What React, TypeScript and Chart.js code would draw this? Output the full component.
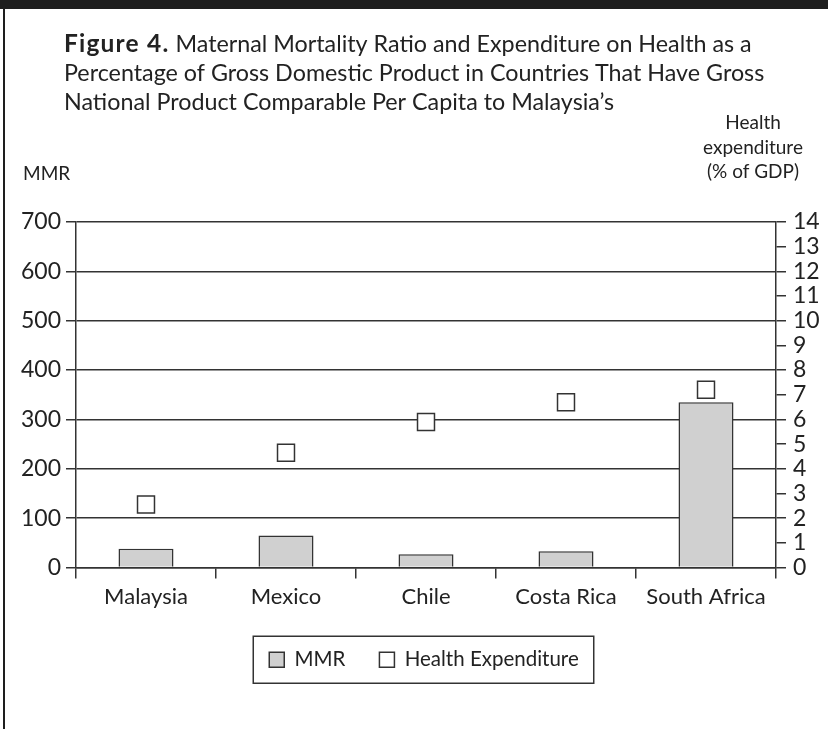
import React, { useEffect, useRef } from "react";
import { Chart, registerables } from "chart.js";

Chart.register(...registerables);

// ---- data ----
const categories = ["Malaysia", "Mexico", "Chile", "Costa Rica", "South Africa"];
const mmrValues = [38, 65, 27, 33, 335];
const healthExpenditureValues = [2.55, 4.65, 5.9, 6.7, 7.2];
const seriesLabels = ["MMR", "Health Expenditure"];
const mmrAxisRange = [0, 700, 100]; // min, max, step
const healthAxisRange = [0, 14, 1]; // min, max, step
const titleBold = "Figure 4.";
const titleLines = [
  " Maternal Mortality Ratio and Expenditure on Health as a",
  "Percentage of Gross Domestic Product in Countries That Have Gross",
  "National Product Comparable Per Capita to Malaysia’s",
];
const leftAxisTitle = ["MMR"];
const rightAxisTitle = ["Health", "expenditure", "(% of GDP)"];

// ---- styles ----
const FONT = "Lato, 'Noto Sans', sans-serif";
const INK = "#222222";
const LINE = "#333333";
const BAR_FILL = "#d0d0d0";

const decorPlugin = {
  id: "decor",
  beforeDraw(chart: any) {
    const ctx = chart.ctx as CanvasRenderingContext2D;
    ctx.save();
    ctx.fillStyle = "#ffffff";
    ctx.fillRect(0, 0, chart.width, chart.height);
    ctx.fillStyle = "#1e1e1e";
    ctx.fillRect(0, 0, chart.width, 9);
    ctx.fillRect(3, 9, 2, chart.height - 9);

    ctx.fillStyle = INK;
    ctx.textBaseline = "alphabetic";
    ctx.textAlign = "left";
    ctx.font = `bold 24.5px ${FONT}`;
    (ctx as any).letterSpacing = "1.2px";
    ctx.fillText(titleBold, 64, 52);
    const bw = ctx.measureText(titleBold).width;
    (ctx as any).letterSpacing = "0px";
    ctx.font = `23.3px ${FONT}`;
    ctx.fillText(titleLines[0], 64 + bw, 52);
    ctx.fillText(titleLines[1], 64, 81);
    ctx.fillText(titleLines[2], 64, 110);

    ctx.font = `19px ${FONT}`;
    leftAxisTitle.forEach((t, i) => ctx.fillText(t, 23, 180 + i * 24.5));
    ctx.textAlign = "center";
    rightAxisTitle.forEach((t, i) => ctx.fillText(t, 753, 129 + i * 24.5));
    ctx.restore();
  },
  afterDraw(chart: any) {
    const lg = chart.legend;
    if (!lg || !lg.legendHitBoxes || !lg.legendHitBoxes.length) return;
    const hb = lg.legendHitBoxes;
    let l = Infinity;
    let r = -Infinity;
    hb.forEach((h: any) => {
      l = Math.min(l, h.left);
      r = Math.max(r, h.left + h.width);
    });
    const cy = hb[0].top + hb[0].height / 2;
    const ctx = chart.ctx as CanvasRenderingContext2D;
    ctx.save();
    ctx.strokeStyle = LINE;
    ctx.lineWidth = 1.5;
    ctx.strokeRect(l - 16, cy - 23.5, r - l + 31, 47);
    ctx.restore();
  },
};

export default function App() {
  const ref = useRef<HTMLCanvasElement | null>(null);

  useEffect(() => {
    if (!ref.current) return;
    const chart = new Chart(ref.current, {
      type: "bar",
      data: {
        labels: categories,
        datasets: [
          {
            type: "bar",
            label: seriesLabels[0],
            data: mmrValues,
            yAxisID: "y",
            backgroundColor: BAR_FILL,
            borderColor: LINE,
            borderWidth: 1.5,
            barPercentage: 0.393,
            categoryPercentage: 1,
            order: 1,
          } as any,
          {
            type: "line",
            label: seriesLabels[1],
            data: healthExpenditureValues,
            yAxisID: "y1",
            showLine: false,
            backgroundColor: "#ffffff",
            borderColor: LINE,
            borderWidth: 1.5,
            pointStyle: "rect",
            pointRadius: 12,
            pointHoverRadius: 12,
            pointBackgroundColor: "#ffffff",
            pointBorderColor: LINE,
            pointBorderWidth: 1.5,
            order: 0,
          } as any,
        ],
      },
      options: {
        responsive: false,
        animation: false,
        devicePixelRatio: 1,
        layout: { padding: { top: 222, left: 20, right: 0, bottom: 49 } },
        plugins: {
          title: { display: false },
          tooltip: { enabled: false },
          legend: {
            display: true,
            position: "bottom",
            labels: {
              font: { family: FONT, size: 20.5 },
              color: INK,
              boxWidth: 15,
              boxHeight: 15,
              padding: 34,
              sort: (a: any, b: any) => a.datasetIndex - b.datasetIndex,
            },
          },
        },
        scales: {
          x: {
            grid: {
              display: true,
              offset: true,
              drawOnChartArea: false,
              drawTicks: true,
              tickLength: 11,
              color: LINE,
              lineWidth: 1.5,
            },
            border: { display: true, color: LINE, width: 1.5 },
            ticks: { font: { family: FONT, size: 22 }, color: INK, padding: 5 },
            afterFit: (s: any) => {
              s.height = 48;
            },
          },
          y: {
            position: "left",
            min: mmrAxisRange[0],
            max: mmrAxisRange[1],
            ticks: {
              stepSize: mmrAxisRange[2],
              font: { family: FONT, size: 23 },
              color: INK,
              padding: 5,
            },
            grid: { color: LINE, lineWidth: 1.5, tickLength: 10 },
            border: { display: true, color: LINE, width: 1.5 },
            afterFit: (s: any) => {
              s.width = 56;
            },
          },
          y1: {
            position: "right",
            min: healthAxisRange[0],
            max: healthAxisRange[1],
            ticks: {
              stepSize: healthAxisRange[2],
              autoSkip: false,
              font: { family: FONT, size: 23 },
              color: INK,
              padding: 7,
            },
            grid: { drawOnChartArea: false, color: LINE, lineWidth: 1.5, tickLength: 10 },
            border: { display: true, color: LINE, width: 1.5 },
            afterFit: (s: any) => {
              s.width = 52;
            },
          },
        },
      },
      plugins: [decorPlugin],
    });
    return () => chart.destroy();
  }, []);

  return (
    <div style={{ position: "absolute", left: 0, top: 0, width: 828, height: 729, background: "#fff" }}>
      <canvas ref={ref} width={828} height={729} style={{ display: "block" }} />
    </div>
  );
}
